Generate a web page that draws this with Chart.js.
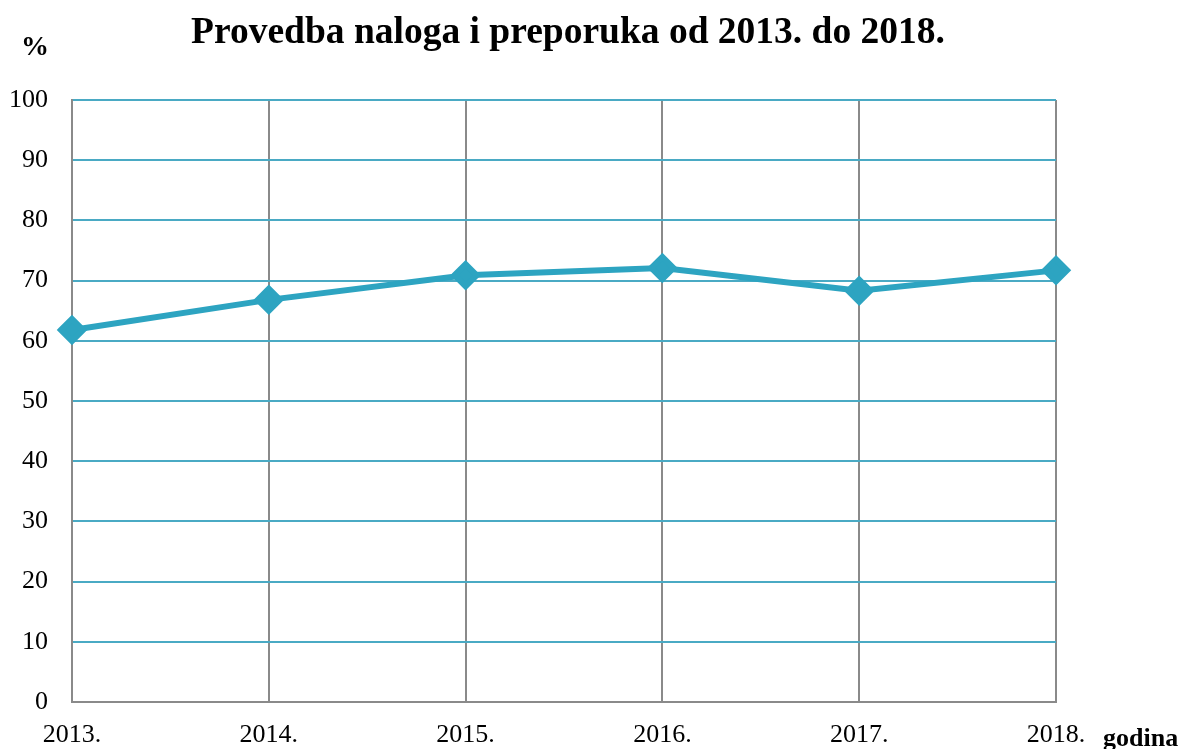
<!DOCTYPE html>
<html>
<head>
<meta charset="utf-8">
<script src="https://cdn.jsdelivr.net/npm/chart.js@4.4.0/dist/chart.umd.min.js"></script>
<style>
  body { margin: 0; background: #fff; }
  canvas { display: block; }
</style>
</head>
<body>
<canvas id="provedbaChart" width="1185" height="749"></canvas>
<script>
// podaci s grafa
const years = ['2013.', '2014.', '2015.', '2016.', '2017.', '2018.'];
const provedba = [61.8, 66.8, 70.9, 72.1, 68.3, 71.7];
const yTicks = [0, 10, 20, 30, 40, 50, 60, 70, 80, 90, 100];

const serif = '"Liberation Serif", "Times New Roman", serif';
const teal = '#2da4c1';

// naslov i oznake osi
const labelsPlugin = {
  id: 'extraLabels',
  afterDraw(chart) {
    const c = chart.ctx;
    const area = chart.chartArea;
    c.save();
    c.fillStyle = '#000';
    c.textBaseline = 'alphabetic';
    c.textAlign = 'center';
    c.font = 'bold 37.5px ' + serif;
    c.fillText('Provedba naloga i preporuka od 2013. do 2018.', (area.left + area.right) / 2 + 4, 43);
    c.font = 'bold 28px ' + serif;
    c.fillText('%', 35, 55);
    c.textAlign = 'left';
    c.font = 'bold 26px ' + serif;
    c.fillText('godina', 1103, 746);
    c.restore();
  }
};

let ctx = document.getElementById('provedbaChart');
let myChart = new Chart(ctx, {
  type: 'line',
  data: {
    labels: years,
    datasets: [{
      data: provedba,
      borderColor: teal,
      backgroundColor: teal,
      borderWidth: 6,
      pointStyle: 'rectRot',
      pointRadius: 11,
      pointHoverRadius: 11,
      tension: 0
    }]
  },
  options: {
    responsive: false,
    animation: { duration: 0 },
    layout: { padding: { top: 100, right: 129, left: 0, bottom: 0 } },
    plugins: {
      legend: { display: false },
      title: { display: false },
      tooltip: { enabled: false }
    },
    scales: {
      x: {
        offset: false,
        grid: { color: '#8a8a8a', lineWidth: 2, drawTicks: false },
        border: { color: '#8a8a8a', width: 2 },
        ticks: {
          color: '#000',
          font: { family: serif, size: 26 },
          padding: 18,
          maxRotation: 0,
          autoSkip: false
        },
        afterFit(scale) { scale.height = 47; }
      },
      y: {
        min: 0,
        max: 100,
        afterBuildTicks(scale) { scale.ticks = yTicks.map(v => ({ value: v })); },
        grid: { color: '#4aaac4', lineWidth: 2, drawTicks: false },
        border: { color: '#8a8a8a', width: 2 },
        ticks: {
          color: '#000',
          font: { family: serif, size: 26 },
          padding: 24
        },
        afterFit(scale) { scale.width = 72; }
      }
    }
  },
  plugins: [labelsPlugin]
});
</script>
</body>
</html>
